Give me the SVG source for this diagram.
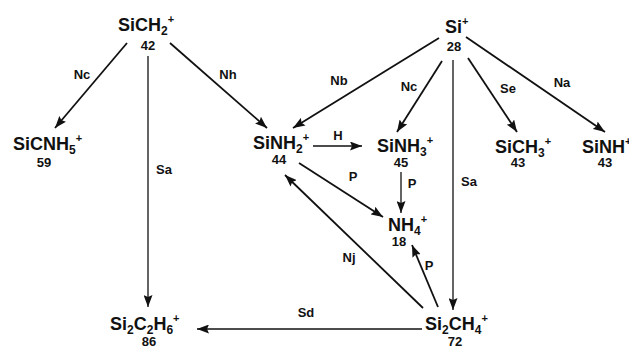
<svg xmlns="http://www.w3.org/2000/svg" width="629" height="348" viewBox="0 0 629 348">
<style>
text{font-family:"Liberation Sans",Arial,Helvetica,sans-serif;font-weight:bold;fill:#111}
.lbl{font-size:18px}
.num{font-size:13px;text-anchor:middle}
.el{font-size:13px;text-anchor:middle}
.sb{font-size:12px}
.sp{font-size:11px}
.c line{stroke:#111;stroke-width:1.8;fill:none;marker-end:url(#ah)}
.c line.thin{stroke-width:1.3}
</style>
<defs>
<marker id="ah" markerUnits="userSpaceOnUse" markerWidth="13" markerHeight="9" refX="12" refY="4.5" orient="auto">
<path d="M0,0 L12,4.5 L0,9 L2,4.5 z" fill="#111"/>
</marker>
</defs>
<rect width="629" height="348" fill="#fff"/>
<g class="c" id="connectors">
<line x1="127" y1="43" x2="55" y2="128"/>
<line x1="170" y1="43" x2="267" y2="128"/>
<line class="thin" x1="148" y1="56" x2="148" y2="307"/>
<line x1="439" y1="38" x2="293" y2="128"/>
<line x1="442" y1="61" x2="397" y2="132"/>
<line class="thin" x1="453" y1="60" x2="453" y2="310"/>
<line x1="468" y1="58" x2="517" y2="132"/>
<line x1="466" y1="37" x2="605" y2="132"/>
<line class="thin" x1="313" y1="146" x2="362" y2="146"/>
<line class="thin" x1="401" y1="172" x2="401" y2="213"/>
<line x1="299" y1="163" x2="383" y2="217"/>
<line x1="423" y1="308" x2="285" y2="175"/>
<line x1="438" y1="307" x2="412" y2="245"/>
<line class="thin" x1="422" y1="329" x2="197" y2="329"/>
</g>
<g id="edge-labels">
<text class="el" x="82" y="79">Nc</text>
<text class="el" x="228" y="79">Nh</text>
<text class="el" x="164" y="174">Sa</text>
<text class="el" x="339" y="85">Nb</text>
<text class="el" x="409" y="91">Nc</text>
<text class="el" x="469" y="186">Sa</text>
<text class="el" x="508" y="93">Se</text>
<text class="el" x="562" y="87">Na</text>
<text class="el" x="338" y="140">H</text>
<text class="el" x="412" y="188">P</text>
<text class="el" x="353" y="181">P</text>
<text class="el" x="349" y="262">Nj</text>
<text class="el" x="429" y="270">P</text>
<text class="el" x="306" y="317">Sd</text>
</g>
<g id="SiCH2">
<text class="lbl" x="118" y="31">SiCH<tspan class="sb" dy="4">2</tspan><tspan class="sp" dy="-12">+</tspan></text>
<text class="num" x="148" y="50">42</text>
</g>
<g id="Si">
<text class="lbl" x="445" y="33">Si<tspan class="sp" dy="-8">+</tspan></text>
<text class="num" x="454" y="51">28</text>
</g>
<g id="SiCNH5">
<text class="lbl" x="13" y="150">SiCNH<tspan class="sb" dy="4">5</tspan><tspan class="sp" dy="-12">+</tspan></text>
<text class="num" x="44" y="167">59</text>
</g>
<g id="SiNH2">
<text class="lbl" x="253" y="149">SiNH<tspan class="sb" dy="4">2</tspan><tspan class="sp" dy="-12">+</tspan></text>
<text class="num" x="279" y="164">44</text>
</g>
<g id="SiNH3">
<text class="lbl" x="377" y="152">SiNH<tspan class="sb" dy="4">3</tspan><tspan class="sp" dy="-12">+</tspan></text>
<text class="num" x="401" y="167">45</text>
</g>
<g id="SiCH3">
<text class="lbl" x="495" y="153">SiCH<tspan class="sb" dy="4">3</tspan><tspan class="sp" dy="-12">+</tspan></text>
<text class="num" x="518" y="167">43</text>
</g>
<g id="SiNH">
<text class="lbl" x="582" y="153">SiNH<tspan class="sp" dy="-8">+</tspan></text>
<text class="num" x="605" y="167">43</text>
</g>
<g id="NH4">
<text class="lbl" x="388" y="231">NH<tspan class="sb" dy="4">4</tspan><tspan class="sp" dy="-12">+</tspan></text>
<text class="num" x="399" y="246">18</text>
</g>
<g id="Si2C2H6">
<text class="lbl" x="110" y="330">Si<tspan class="sb" dy="4">2</tspan><tspan dy="-4">C</tspan><tspan class="sb" dy="4">2</tspan><tspan dy="-4">H</tspan><tspan class="sb" dy="4">6</tspan><tspan class="sp" dy="-12">+</tspan></text>
<text class="num" x="149" y="346">86</text>
</g>
<g id="Si2CH4">
<text class="lbl" x="425" y="330">Si<tspan class="sb" dy="4">2</tspan><tspan dy="-4">CH</tspan><tspan class="sb" dy="4">4</tspan><tspan class="sp" dy="-12">+</tspan></text>
<text class="num" x="455" y="346">72</text>
</g>
</svg>
